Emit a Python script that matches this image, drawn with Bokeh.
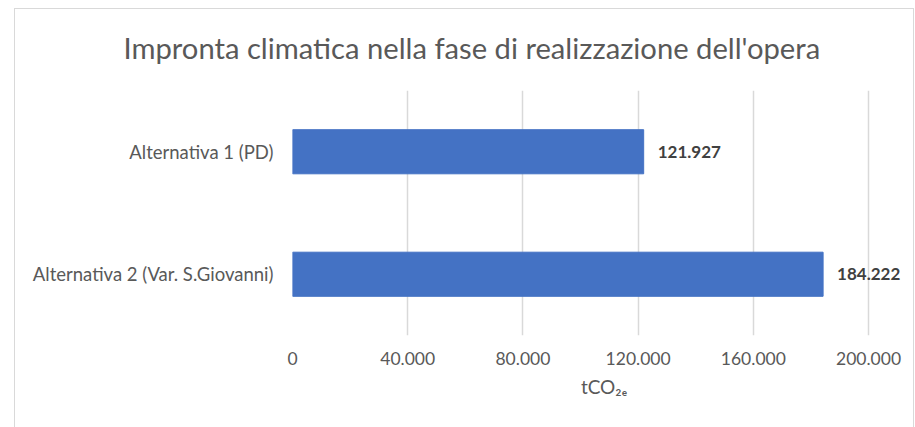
from bokeh.plotting import figure
from bokeh.models import FixedTicker, CustomJSTickFormatter, ColumnDataSource, FactorRange, Range1d, InlineStyleSheet
from bokeh.core.properties import value
from bokeh.embed import file_html
from bokeh.resources import INLINE

title = "Impronta climatica nella fase di realizzazione dell'opera"
categories = ["Alternativa 1 (PD)", "Alternativa 2 (Var. S.Giovanni)"]
values = [121927, 184222]
x_ticks = [0, 40000, 80000, 120000, 160000, 200000]
x_label = "tCO₂ₑ"

def fmt(v):
    return f"{v:,}".replace(",", ".")

src = ColumnDataSource(dict(cat=categories, val=values, lab=[fmt(v) for v in values]))

FONT = "Lato"
GRAY = "#595959"

p = figure(width=915, height=427, output_backend="svg", toolbar_location=None,
           y_range=FactorRange(factors=categories[::-1]), x_range=Range1d(0, 216300),
           min_border_left=292, min_border_right=0, min_border_top=90, min_border_bottom=92)

p.hbar(y="cat", right="val", left=0, height=0.36, source=src, color="#4472c4")
p.text(x="val", y="cat", text="lab", source=src, x_offset=14, text_baseline="middle",
       text_font=value(FONT), text_font_style="bold", text_font_size="17px", text_color="#404040")

p.title.text = title
p.title.align = "left"
p.title.offset = -169
p.title.text_font = FONT
p.title.text_font_style = "normal"
p.title.text_font_size = "29.2px"
p.title.text_color = GRAY
p.title.standoff = 51

p.xaxis.ticker = FixedTicker(ticks=x_ticks)
p.xaxis.formatter = CustomJSTickFormatter(code="return String(tick).replace(/\\B(?=(\\d{3})+(?!\\d))/g, '.');")
p.xaxis.axis_line_color = None
p.xaxis.major_tick_line_color = None
p.xaxis.minor_tick_line_color = None
p.xaxis.major_label_text_font = FONT
p.xaxis.major_label_text_font_size = "17.5px"
p.xaxis.major_label_text_color = GRAY
p.xaxis.major_label_standoff = 10
p.xaxis.axis_label = x_label
p.xaxis.axis_label_text_font = FONT
p.xaxis.axis_label_text_font_style = "normal"
p.xaxis.axis_label_text_font_size = "19px"
p.xaxis.axis_label_text_color = GRAY
p.xaxis.axis_label_standoff = 7

p.yaxis.axis_line_color = None
p.yaxis.major_tick_line_color = None
p.yaxis.minor_tick_line_color = None
p.yaxis.major_label_text_font = FONT
p.yaxis.major_label_text_font_size = "18.5px"
p.yaxis.major_label_text_color = GRAY
p.yaxis.major_label_standoff = 13

p.ygrid.grid_line_color = None
p.xgrid.grid_line_color = "#d9d9d9"
p.xgrid.grid_line_width = 1.5
p.outline_line_color = None

p.stylesheets = [InlineStyleSheet(css=":host::after { content: ''; position: absolute; left: 14px; top: 8px; right: 1px; bottom: -20px;"
                                      " border: 1.5px solid #d9d9d9; pointer-events: none; z-index: 10; }")]

open("out.html", "w").write(file_html(p, INLINE))
